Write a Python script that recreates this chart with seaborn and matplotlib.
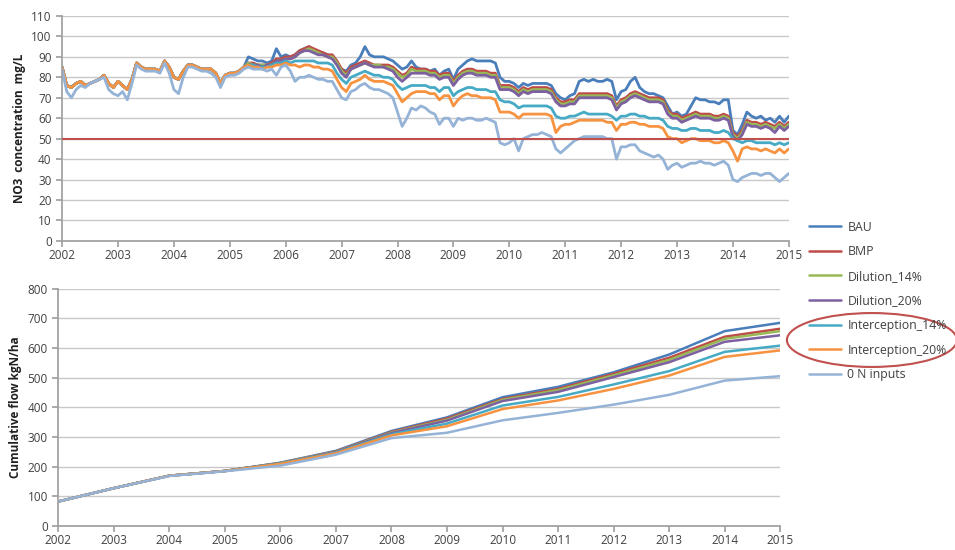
import numpy as np
import pandas as pd
import seaborn as sns
import matplotlib.pyplot as plt
from matplotlib.patches import Ellipse

# =======================================
# DATA
# =======================================
scenarios = ["BAU", "BMP", "Dilution_14%", "Dilution_20%",
             "Interception_14%", "Interception_20%", "0 N inputs"]
colors = ["#4A7EBB", "#BE4B48", "#98B954", "#7D60A0",
          "#46AAC5", "#F69240", "#95B3D7"]

# monthly NO3 concentration (mg/L), Jan 2002 .. Jan 2015
months = [2002 + k / 12 for k in range(157)]

# all management scenarios are identical until spring 2005
shared_2002_2005 = [85, 76, 75, 77, 78, 76, 77, 78, 79, 81, 77, 75,
                    78, 76, 74, 79, 87, 85, 84, 84, 84, 83, 88, 85,
                    80, 79, 83, 86, 86, 85, 84, 84, 84, 82, 77, 81,
                    82, 82, 83, 85]
zero_n_2002_2005 = [84, 73, 70, 74, 76, 75, 77, 78, 79, 80, 74, 72,
                    71, 73, 69, 77, 86, 84, 83, 83, 83, 82, 87, 82,
                    74, 72, 80, 85, 85, 84, 83, 83, 82, 80, 75, 80,
                    81, 81, 82, 84]

bau_conc = shared_2002_2005 + [
    90, 89, 88, 88, 87, 88, 94, 90,
    91, 90, 91, 93, 94, 95, 93, 92, 92, 91, 90, 87,
    84, 83, 86, 87, 90, 95, 91, 90, 90, 90, 89, 88,
    86, 84, 85, 88, 85, 84, 84, 83, 84, 81, 83, 84,
    79, 84, 86, 88, 89, 88, 88, 88, 88, 87, 80, 78,
    78, 77, 75, 77, 76, 77, 77, 77, 77, 76, 72, 70,
    69, 71, 72, 78, 79, 78, 79, 78, 78, 79, 78, 69,
    73, 74, 78, 80, 75, 73, 72, 72, 71, 70, 66, 62,
    63, 61, 62, 66, 70, 69, 69, 68, 68, 67, 69, 69,
    54, 52, 57, 63, 61, 60, 61, 59, 60, 58, 61, 58, 61]
bmp_conc = shared_2002_2005 + [
    87, 87, 86, 86, 86, 87, 89, 89,
    90, 90, 91, 93, 94, 95, 94, 93, 92, 91, 91, 88,
    84, 82, 85, 86, 87, 88, 87, 86, 86, 86, 86, 85,
    83, 81, 82, 85, 84, 84, 84, 83, 83, 81, 82, 82,
    78, 81, 83, 84, 84, 83, 83, 83, 82, 82, 76, 76,
    76, 75, 73, 75, 74, 75, 75, 75, 75, 74, 70, 68,
    68, 69, 69, 72, 72, 72, 72, 72, 72, 72, 71, 66,
    69, 70, 72, 73, 72, 71, 70, 70, 70, 69, 64, 62,
    62, 60, 61, 62, 63, 62, 62, 62, 61, 61, 62, 61,
    53, 51, 54, 59, 58, 58, 57, 58, 57, 56, 58, 56, 58]
dil14_conc = shared_2002_2005 + [
    87, 86, 86, 86, 86, 86, 88, 88,
    89, 89, 90, 92, 93, 94, 93, 92, 91, 90, 90, 87,
    83, 81, 84, 85, 86, 87, 86, 86, 86, 85, 85, 84,
    82, 80, 81, 84, 83, 83, 83, 82, 82, 80, 81, 81,
    77, 80, 82, 83, 83, 82, 82, 82, 81, 81, 75, 75,
    75, 74, 72, 74, 73, 74, 74, 74, 74, 73, 69, 67,
    67, 68, 68, 71, 71, 71, 71, 71, 71, 71, 70, 65,
    68, 69, 71, 72, 71, 70, 69, 69, 69, 68, 63, 61,
    61, 59, 60, 61, 62, 61, 61, 61, 60, 60, 61, 60,
    52, 50, 53, 58, 57, 57, 56, 57, 56, 55, 57, 55, 57]
dil20_conc = shared_2002_2005 + [
    86, 86, 86, 85, 86, 86, 88, 88,
    89, 89, 90, 92, 93, 93, 92, 91, 91, 90, 89, 86,
    82, 80, 84, 85, 86, 87, 86, 85, 85, 85, 84, 83,
    80, 78, 80, 82, 82, 82, 82, 81, 81, 79, 80, 80,
    76, 79, 81, 82, 82, 81, 81, 81, 80, 80, 74, 74,
    74, 73, 71, 73, 72, 73, 73, 73, 73, 72, 68, 66,
    66, 67, 67, 70, 70, 70, 70, 70, 70, 70, 69, 64,
    67, 68, 70, 71, 70, 69, 68, 68, 68, 67, 62, 60,
    60, 58, 59, 60, 61, 60, 60, 60, 59, 59, 60, 59,
    51, 49, 52, 57, 56, 56, 55, 56, 55, 53, 56, 54, 56]
int14_conc = shared_2002_2005 + [
    86, 86, 85, 85, 85, 86, 87, 87,
    88, 87, 88, 88, 88, 88, 88, 87, 87, 87, 86, 82,
    79, 77, 80, 81, 82, 83, 82, 81, 81, 80, 80, 79,
    76, 74, 75, 76, 76, 76, 76, 75, 75, 73, 75, 75,
    71, 73, 74, 75, 75, 74, 74, 74, 73, 73, 69, 68,
    68, 67, 65, 66, 66, 66, 66, 66, 66, 65, 61, 60,
    60, 61, 61, 62, 63, 62, 62, 62, 62, 62, 61, 59,
    61, 61, 62, 62, 61, 61, 60, 60, 60, 59, 56, 55,
    55, 54, 54, 55, 55, 54, 54, 54, 53, 53, 54, 53,
    50, 49, 48, 49, 49, 48, 48, 48, 48, 47, 48, 47, 48]
int20_conc = shared_2002_2005 + [
    86, 85, 85, 84, 85, 85, 86, 86,
    87, 86, 86, 85, 86, 86, 85, 85, 84, 84, 83, 79,
    75, 73, 77, 78, 79, 81, 79, 78, 78, 78, 77, 76,
    72, 68, 70, 72, 73, 73, 73, 72, 72, 69, 71, 71,
    66, 69, 71, 72, 71, 71, 70, 70, 70, 69, 63, 63,
    63, 62, 60, 62, 62, 62, 62, 62, 62, 61, 53, 56,
    57, 57, 58, 59, 59, 59, 59, 59, 59, 58, 58, 54,
    57, 57, 58, 58, 57, 57, 56, 56, 56, 55, 51, 50,
    50, 48, 49, 50, 50, 49, 49, 49, 48, 48, 49, 48,
    44, 39, 45, 46, 45, 45, 44, 45, 44, 43, 45, 43, 45]
zero_n_conc = zero_n_2002_2005 + [
    85, 84, 84, 84, 83, 84, 81, 85,
    86, 83, 78, 80, 80, 81, 80, 79, 79, 78, 78, 74,
    70, 69, 73, 74, 76, 77, 75, 74, 74, 73, 72, 70,
    63, 56, 60, 65, 64, 66, 65, 63, 62, 57, 60, 60,
    56, 60, 59, 60, 60, 59, 59, 60, 59, 58, 48, 47,
    48, 50, 44, 50, 51, 52, 52, 53, 52, 51, 45, 43,
    45, 47, 49, 50, 51, 51, 51, 51, 51, 50, 50, 40,
    46, 46, 47, 47, 44, 43, 42, 41, 42, 40, 35, 37,
    38, 36, 37, 38, 38, 39, 38, 38, 37, 38, 39, 37,
    30, 29, 31, 32, 33, 33, 32, 33, 33, 31, 29, 31, 33]
limit_no3 = 50

# yearly cumulative N flow (kgN/ha)
years = list(range(2002, 2016))
bau_flow = [82, 127, 169, 185, 213, 253, 320, 366, 434, 469, 518, 578, 657, 685]
bmp_flow = [82, 127, 169, 185, 212, 251, 317, 362, 428, 462, 513, 567, 638, 665]
dil14_flow = [82, 127, 169, 185, 212, 250, 315, 358, 425, 458, 508, 560, 631, 657]
dil20_flow = [82, 127, 169, 185, 211, 249, 313, 355, 421, 452, 502, 552, 621, 643]
int14_flow = [82, 127, 169, 185, 210, 247, 309, 345, 406, 435, 477, 522, 587, 608]
int20_flow = [82, 127, 169, 185, 209, 245, 305, 336, 394, 423, 462, 507, 570, 592]
zero_n_flow = [82, 127, 168, 184, 203, 240, 296, 314, 356, 381, 409, 442, 490, 505]

conc_series = [bau_conc, bmp_conc, dil14_conc, dil20_conc,
               int14_conc, int20_conc, zero_n_conc]
flow_series = [bau_flow, bmp_flow, dil14_flow, dil20_flow,
               int14_flow, int20_flow, zero_n_flow]

conc_df = pd.concat([pd.DataFrame({"t": months, "value": v, "scenario": s})
                     for s, v in zip(scenarios, conc_series)])
flow_df = pd.concat([pd.DataFrame({"t": years, "value": v, "scenario": s})
                     for s, v in zip(scenarios, flow_series)])

# =======================================
# STYLE
# =======================================
sns.set_theme(style="white")
plt.rcParams["font.family"] = ["Open Sans", "DejaVu Sans"]
text_col = "#404040"
grid_col = "#C8C8C8"
palette = dict(zip(scenarios, colors))

fig = plt.figure(figsize=(9.55, 5.5), dpi=100)
ax1 = fig.add_axes([0.065, 0.562, 0.761, 0.409])
ax2 = fig.add_axes([0.061, 0.044, 0.756, 0.431])

# --- top: NO3 concentration ---
sns.lineplot(data=conc_df, x="t", y="value", hue="scenario", palette=palette,
             hue_order=scenarios, estimator=None, linewidth=2.0, legend=False, ax=ax1)
ax1.axhline(limit_no3, color="#C0504D", linewidth=1.5, zorder=5)
ax1.set_ylim(0, 110)
ax1.set_yticks(np.arange(0, 111, 10))
ax1.set_ylabel("NO3  concentration  mg/L", fontsize=8.5, fontweight="bold", color="#202020")

# --- bottom: cumulative flow ---
sns.lineplot(data=flow_df, x="t", y="value", hue="scenario", palette=palette,
             hue_order=scenarios, estimator=None, linewidth=1.8, legend=True, ax=ax2)
ax2.set_ylim(0, 800)
ax2.set_yticks(np.arange(0, 801, 100))
ax2.set_ylabel("Cumulative flow kgN/ha", fontsize=8.5, fontweight="bold", color="#202020")

for ax in (ax1, ax2):
    ax.set_xlim(2002, 2015)
    ax.set_xticks(years)
    ax.set_xlabel("")
    ax.grid(axis="y", color=grid_col, linewidth=1)
    ax.grid(axis="x", visible=False)
    for side in ("top", "right"):
        ax.spines[side].set_visible(False)
    for side in ("left", "bottom"):
        ax.spines[side].set_color("#A0A0A0")
    ax.tick_params(axis="both", labelsize=8.5, colors=text_col, length=4,
                   color="#A0A0A0", direction="out", bottom=True, left=True)
    ax.tick_params(axis="x", pad=2)

# --- shared legend on the right ---
handles, labels = ax2.get_legend_handles_labels()
ax2.get_legend().remove()
fig.legend(handles, labels, loc="upper left", bbox_to_anchor=(0.836, 0.619),
           frameon=False, fontsize=8.8, labelcolor=text_col, handlelength=2.6,
           labelspacing=0.95, handletextpad=0.5)

# red ellipse highlighting the interception scenarios
fig.patches.append(Ellipse((0.913, 1 - 340 / 550), 0.178, 0.098,
                           transform=fig.transFigure, fill=False,
                           edgecolor="#C0504D", linewidth=1.5))

fig.savefig("out.png", dpi=100)
